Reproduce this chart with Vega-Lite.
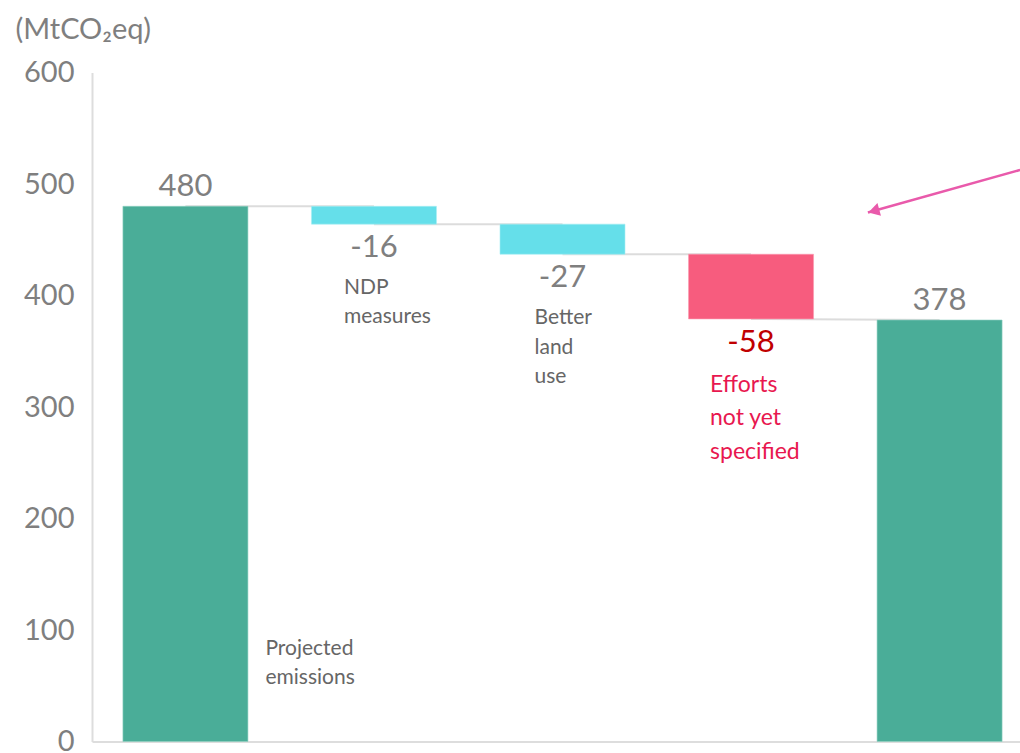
{
  "$schema": "https://vega.github.io/schema/vega-lite/v6.json",
  "width": 941,
  "height": 669,
  "autosize": "none",
  "padding": {"left": 92, "top": 72.5, "right": 0, "bottom": 11.5},
  "background": "white",
  "config": {"view": {"stroke": null}, "font": "Lato"},
  "datasets": {
    "bars": [
      {"cat": "Projected emissions", "start": 0, "end": 480, "value": "480", "kind": "total"},
      {"cat": "NDP measures", "start": 480, "end": 464, "value": "-16", "kind": "step"},
      {"cat": "Better land use", "start": 464, "end": 437, "value": "-27", "kind": "step"},
      {"cat": "Efforts not yet specified", "start": 437, "end": 379, "value": "-58", "kind": "gap"},
      {"cat": "Result", "start": 0, "end": 378, "value": "378", "kind": "total"}
    ],
    "links": [
      {"from": "Projected emissions", "to": "NDP measures", "a": 480, "b": 480},
      {"from": "NDP measures", "to": "Better land use", "a": 464, "b": 464},
      {"from": "Better land use", "to": "Efforts not yet specified", "a": 437, "b": 437},
      {"from": "Efforts not yet specified", "to": "Result", "a": 379, "b": 378}
    ],
    "arrow": [
      {"x1": 4.427, "y1": 512.6, "x2": 3.62, "y2": 474.5}
    ],
    "arrowhead": [
      {"x": 3.651, "y": 475.9}
    ]
  },
  "layer": [
    {
      "layer": [
        {
          "data": {"name": "links"},
          "mark": {"type": "rule", "color": "#dcdcdc", "strokeWidth": 2},
          "encoding": {
            "x": {"field": "from", "type": "nominal", "sort": null, "scale": {"domain": ["Projected emissions", "NDP measures", "Better land use", "Efforts not yet specified", "Result"], "paddingInner": 0.337, "paddingOuter": 0.164}, "axis": {"labels": false, "ticks": false, "title": null, "domainColor": "#dddddd", "domainWidth": 2}},
            "x2": {"field": "to"},
            "y": {"field": "a", "type": "quantitative", "scale": {"domain": [0, 600]}, "axis": {"values": [0, 100, 200, 300, 400, 500, 600], "grid": false, "ticks": false, "labelFontSize": 29, "labelColor": "#7f7f7f", "labelPadding": 18, "domainColor": "#dddddd", "domainWidth": 2, "title": "(MtCO₂eq)", "titleAngle": 0, "titleAlign": "left", "titleBaseline": "middle", "titleX": -77, "titleY": -43, "titleFontSize": 29, "titleFontWeight": "normal", "titleColor": "#7f7f7f"}},
            "y2": {"field": "b"}
          }
        },
        {
          "data": {"name": "bars"},
          "mark": {"type": "bar", "strokeWidth": 1, "strokeOpacity": 0.6},
          "encoding": {
            "x": {"field": "cat", "type": "nominal", "sort": null},
            "y": {"field": "start", "type": "quantitative"},
            "y2": {"field": "end"},
            "color": {"field": "kind", "type": "nominal", "scale": {"domain": ["total", "step", "gap"], "range": ["#4aad98", "#65dfea", "#f75c7e"]}, "legend": null},
            "stroke": {"field": "kind", "type": "nominal", "scale": {"domain": ["total", "step", "gap"], "range": ["#8fd1c2", "#a6eef4", "#fa9ab0"]}, "legend": null}
          }
        },
        {
          "data": {"name": "bars"},
          "transform": [{"filter": "datum.kind == 'total'"}],
          "mark": {"type": "text", "fontSize": 31, "color": "#7f7f7f", "baseline": "alphabetic", "dy": -10},
          "encoding": {
            "x": {"field": "cat", "type": "nominal", "sort": null},
            "y": {"field": "end", "type": "quantitative"},
            "text": {"field": "value"}
          }
        },
        {
          "data": {"name": "bars"},
          "transform": [{"filter": "datum.kind == 'step'"}],
          "mark": {"type": "text", "fontSize": 31, "color": "#7f7f7f", "baseline": "alphabetic", "dy": 33},
          "encoding": {
            "x": {"field": "cat", "type": "nominal", "sort": null},
            "y": {"field": "end", "type": "quantitative"},
            "text": {"field": "value"}
          }
        },
        {
          "data": {"name": "bars"},
          "transform": [{"filter": "datum.kind == 'gap'"}],
          "mark": {"type": "text", "fontSize": 31, "color": "#c00000", "baseline": "alphabetic", "dy": 33},
          "encoding": {
            "x": {"field": "cat", "type": "nominal", "sort": null},
            "y": {"field": "end", "type": "quantitative"},
            "text": {"field": "value"}
          }
        },
        {
          "data": {"name": "bars"},
          "transform": [{"filter": "datum.cat == 'Projected emissions'"}],
          "mark": {"type": "text", "fontSize": 21, "color": "#666666", "align": "left", "baseline": "top", "lineBreak": "\n", "lineHeight": 29, "dx": 80, "dy": -104, "text": "Projected\nemissions"},
          "encoding": {
            "x": {"field": "cat", "type": "nominal", "sort": null},
            "y": {"field": "start", "type": "quantitative"}
          }
        },
        {
          "data": {"name": "bars"},
          "transform": [{"filter": "datum.cat == 'NDP measures'"}],
          "mark": {"type": "text", "fontSize": 21, "color": "#666666", "align": "left", "baseline": "top", "lineBreak": "\n", "lineHeight": 29, "dx": -30, "dy": 53, "text": "NDP\nmeasures"},
          "encoding": {
            "x": {"field": "cat", "type": "nominal", "sort": null},
            "y": {"field": "end", "type": "quantitative"}
          }
        },
        {
          "data": {"name": "bars"},
          "transform": [{"filter": "datum.cat == 'Better land use'"}],
          "mark": {"type": "text", "fontSize": 21, "color": "#666666", "align": "left", "baseline": "top", "lineBreak": "\n", "lineHeight": 29.5, "dx": -28, "dy": 53, "text": "Better\nland\nuse"},
          "encoding": {
            "x": {"field": "cat", "type": "nominal", "sort": null},
            "y": {"field": "end", "type": "quantitative"}
          }
        },
        {
          "data": {"name": "bars"},
          "transform": [{"filter": "datum.kind == 'gap'"}],
          "mark": {"type": "text", "fontSize": 23, "color": "#e8174f", "align": "left", "baseline": "top", "lineBreak": "\n", "lineHeight": 33.5, "dx": -41, "dy": 55, "text": "Efforts\nnot yet\nspecified"},
          "encoding": {
            "x": {"field": "cat", "type": "nominal", "sort": null},
            "y": {"field": "end", "type": "quantitative"}
          }
        }
      ]
    },
    {
      "layer": [
        {
          "data": {"name": "arrow"},
          "mark": {"type": "rule", "color": "#e95aab", "strokeWidth": 2.5},
          "encoding": {
            "x": {"field": "x1", "type": "quantitative", "scale": {"domain": [-0.4954, 4.4956], "nice": false, "zero": false}, "axis": null},
            "x2": {"field": "x2"},
            "y": {"field": "y1", "type": "quantitative"},
            "y2": {"field": "y2"}
          }
        },
        {
          "data": {"name": "arrowhead"},
          "mark": {"type": "point", "shape": "triangle-up", "filled": true, "color": "#e95aab", "opacity": 1, "size": 170, "angle": 254.5},
          "encoding": {
            "x": {"field": "x", "type": "quantitative"},
            "y": {"field": "y", "type": "quantitative"}
          }
        }
      ]
    }
  ],
  "resolve": {"scale": {"x": "independent"}}
}
